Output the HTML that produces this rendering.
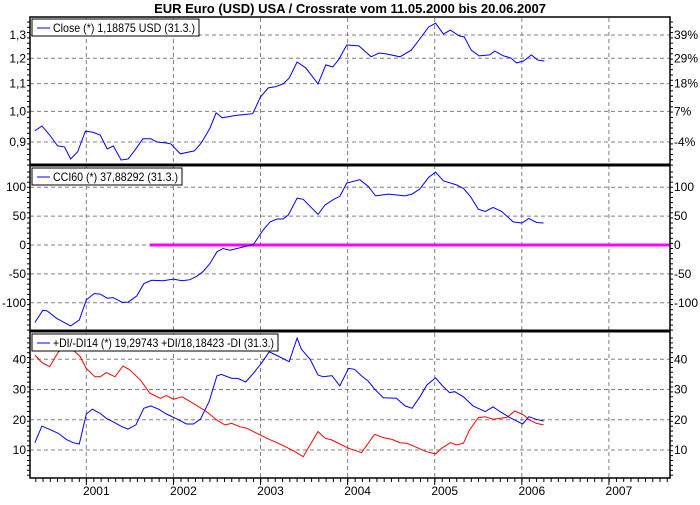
<!DOCTYPE html>
<html><head><meta charset="utf-8"><style>
body{margin:0;background:#fff}
svg text{font-family:"Liberation Sans",Arial,sans-serif;font-size:12px;fill:#000}
</style></head><body>
<svg id="c" width="700" height="500" xmlns="http://www.w3.org/2000/svg">
<text x="350" y="13" text-anchor="middle" style="font-weight:bold;font-size:13px">EUR Euro (USD) USA / Crossrate vom 11.05.2000  bis 20.06.2007</text>
</svg>
<script>
const closeDates=[2000.41,2000.49,2000.58,2000.67,2000.75,2000.82,2000.90,2000.99,2001.07,2001.16,2001.24,2001.31,2001.40,2001.48,2001.56,2001.65,2001.74,2001.81,2001.92,2001.97,2002.08,2002.13,2002.24,2002.32,2002.42,2002.49,2002.56,2002.62,2002.69,2002.77,2002.91,2003.00,2003.09,2003.17,2003.26,2003.33,2003.42,2003.52,2003.66,2003.75,2003.83,2003.90,2003.99,2004.13,2004.27,2004.36,2004.45,2004.60,2004.73,2004.82,2004.93,2005.01,2005.10,2005.18,2005.28,2005.34,2005.42,2005.51,2005.63,2005.69,2005.79,2005.87,2005.94,2006.02,2006.11,2006.18,2006.26];
const closeValues=[0.935,0.951,0.922,0.888,0.885,0.849,0.870,0.934,0.931,0.922,0.879,0.888,0.846,0.849,0.876,0.910,0.910,0.900,0.897,0.894,0.864,0.867,0.873,0.897,0.944,0.995,0.978,0.981,0.985,0.988,0.992,1.051,1.084,1.088,1.099,1.121,1.185,1.161,1.099,1.173,1.165,1.196,1.256,1.252,1.206,1.222,1.218,1.206,1.234,1.278,1.336,1.354,1.304,1.322,1.296,1.291,1.234,1.210,1.214,1.230,1.210,1.202,1.181,1.189,1.214,1.193,1.189];
const cciDates=[2000.41,2000.50,2000.55,2000.66,2000.82,2000.92,2001.00,2001.09,2001.16,2001.24,2001.31,2001.41,2001.48,2001.58,2001.66,2001.75,2001.88,2002.00,2002.10,2002.19,2002.27,2002.34,2002.42,2002.50,2002.57,2002.65,2002.73,2002.84,2002.92,2003.03,2003.11,2003.19,2003.26,2003.32,2003.42,2003.49,2003.66,2003.74,2003.84,2003.91,2003.99,2004.14,2004.24,2004.32,2004.47,2004.66,2004.74,2004.83,2004.93,2005.01,2005.10,2005.25,2005.33,2005.41,2005.50,2005.58,2005.67,2005.77,2005.90,2006.00,2006.08,2006.17,2006.25];
const cciValues=[-134,-113,-114,-127,-140,-130,-95,-84,-85,-92,-91,-99,-99,-88,-67,-61,-62,-59,-62,-60,-54,-46,-32,-12,-6,-9,-6,-2,1,26,40,45,45,52,81,79,53,69,79,84,107,113,101,85,88,85,88,97,117,126,111,104,98,84,62,58,65,58,40,38,46,39,38];
const cciZeroStart=2001.73;
const diPlusDates=[2000.41,2000.49,2000.58,2000.68,2000.77,2000.85,2000.92,2001.00,2001.07,2001.16,2001.23,2001.33,2001.41,2001.48,2001.57,2001.66,2001.74,2001.83,2001.92,2002.04,2002.15,2002.23,2002.31,2002.41,2002.50,2002.55,2002.67,2002.74,2002.83,2002.92,2003.01,2003.10,2003.20,2003.33,2003.42,2003.47,2003.57,2003.66,2003.72,2003.82,2003.91,2004.01,2004.08,2004.16,2004.24,2004.31,2004.41,2004.56,2004.66,2004.74,2004.83,2004.91,2005.01,2005.08,2005.17,2005.23,2005.33,2005.44,2005.58,2005.67,2005.75,2005.86,2006.01,2006.08,2006.16,2006.25];
const diPlusValues=[12.4,17.9,16.8,15.5,13.5,12.4,12.0,21.9,23.5,22.1,20.5,19.0,17.7,16.9,18.3,23.8,24.6,23.5,21.9,20.3,18.6,18.6,20.2,26.0,34.5,35.0,33.7,33.7,32.5,35.4,38.7,42.5,41.1,39.2,47.0,43.3,40.0,34.8,34.2,34.6,31.2,37.0,36.7,34.5,32.7,30.1,27.3,27.1,24.6,23.8,27.6,31.5,33.9,31.5,29.0,29.3,27.6,24.6,22.7,24.3,22.7,20.8,18.6,21.0,20.2,19.6];
const diMinusDates=[2000.41,2000.49,2000.58,2000.68,2000.77,2000.87,2000.93,2001.00,2001.10,2001.16,2001.23,2001.33,2001.42,2001.50,2001.62,2001.73,2001.85,2001.92,2002.00,2002.10,2002.23,2002.38,2002.50,2002.59,2002.67,2002.76,2002.84,2002.96,2003.07,2003.19,2003.30,2003.40,2003.49,2003.57,2003.66,2003.74,2003.82,2003.91,2004.01,2004.16,2004.31,2004.41,2004.51,2004.60,2004.68,2004.79,2004.91,2005.01,2005.08,2005.18,2005.25,2005.33,2005.40,2005.50,2005.58,2005.67,2005.83,2005.92,2006.02,2006.09,2006.17,2006.25];
const diMinusValues=[41.4,38.9,37.6,42.5,44.2,42.5,40.9,37.0,34.2,34.2,35.6,34.2,37.8,36.5,33.2,28.8,27.1,28.0,26.8,27.6,25.4,22.7,19.9,18.3,18.8,17.7,17.2,15.5,13.9,12.4,10.9,9.4,7.8,11.7,16.1,13.9,13.3,12.0,10.6,9.1,15.2,14.1,13.5,12.4,12.2,10.9,9.4,8.7,10.6,12.4,11.7,12.2,16.6,20.7,21.0,20.2,20.8,22.9,21.6,19.9,18.8,18.3];
const yearTicks=[2001,2002,2003,2004,2005,2006,2007];
const closeTicks=[0.9,1.0,1.1,1.2,1.3];
const closeTickLabels=["0,9","1,0","1,1","1,2","1,3"];
const pctTickLabels=["-4%","7%","18%","29%","39%"];
const cciTicks=[-100,-50,0,50,100];
const diTicks=[10,20,30,40];

const svg=document.getElementById('c');
const NS='http://www.w3.org/2000/svg';
const L=30,R=670;
function X(y){return 86.3+(y-2001)*87.1;}
function yClose(v){return 35+(Math.log10(1.3)-Math.log10(v))/(Math.log10(1.3)-Math.log10(0.9))*107;}
function yCci(v){return 245-v*0.578;}
function yDi(v){return 450-(v-10)*3.023;}
function mk(tag,attrs){const e=document.createElementNS(NS,tag);for(const k in attrs)e.setAttribute(k,attrs[k]);svg.appendChild(e);return e;}
function grid(y,name){const g=mk('line',{x1:L,x2:R,y1:y,y2:y,stroke:'#808080','stroke-dasharray':'4,3'});

}
function txt(x,y,s,anchor,name){const t=mk('text',{x:x,y:y,'text-anchor':anchor});t.textContent=s;

return t;}
function line(ds,vs,fy,color,name){const p=mk('polyline',{fill:'none',stroke:color,'stroke-width':1,points:ds.map((d,i)=>X(d).toFixed(1)+','+fy(vs[i]).toFixed(1)).join(' ')});

}
yearTicks.forEach(y=>{const g=mk('line',{x1:X(y),x2:X(y),y1:18,y2:478,stroke:'#808080','stroke-dasharray':'4,3'});


txt(X(y)+10,495,String(y),'middle','x-tick-label');});
closeTicks.forEach((v,i)=>{const y=yClose(v);grid(y,'close-grid-line');txt(26,y+4,closeTickLabels[i],'end','close-tick-label');txt(674,y+4,pctTickLabels[i],'start','percent-tick-label');});
cciTicks.forEach(v=>{const y=yCci(v);grid(y,'cci-grid-line');txt(26,y+4,String(v),'end','cci-tick-label');txt(674,y+4,String(v),'start','cci-right-tick-label');});
diTicks.forEach(v=>{const y=yDi(v);grid(y,'di-grid-line');txt(26,y+4,String(v),'end','di-tick-label');txt(674,y+4,String(v),'start','di-right-tick-label');});
for(let i=0;i<28;i++){[L,R].forEach(x=>{mk('line',{x1:x,x2:x+(x==L?-3:3),y1:22+i*5.3,y2:22+i*5.3,stroke:'#000'});});}
for(let i=0;i<32;i++){[L,R].forEach(x=>{mk('line',{x1:x,x2:x+(x==L?-3:3),y1:172+i*5.1,y2:172+i*5.1,stroke:'#000'});});}
for(let i=0;i<29;i++){[L,R].forEach(x=>{mk('line',{x1:x,x2:x+(x==L?-3:3),y1:338+i*4.9,y2:338+i*4.9,stroke:'#000'});});}
for(let m=2000.42;m<2007.7;m+=1/12){mk('line',{x1:X(m),x2:X(m),y1:478,y2:482,stroke:'#000'});}
yearTicks.forEach(y=>mk('line',{x1:X(y),x2:X(y),y1:478,y2:485,stroke:'#000'}));
const z=mk('line',{x1:X(cciZeroStart),x2:R,y1:yCci(0),y2:yCci(0),stroke:'#ff00ff','stroke-width':3});


line(closeDates,closeValues,yClose,'#0000ff','close-line');
line(cciDates,cciValues,yCci,'#0000ff','cci-line');
line(diMinusDates,diMinusValues,yDi,'#ff0000','di-minus-line');
line(diPlusDates,diPlusValues,yDi,'#0000ff','di-plus-line');
mk('rect',{x:L,y:17,width:R-L,height:461,fill:'none',stroke:'#000','stroke-width':1.5});
mk('line',{x1:L,x2:R,y1:165,y2:165,stroke:'#000','stroke-width':3});
mk('line',{x1:L,x2:R,y1:331,y2:331,stroke:'#000','stroke-width':3});
function legend(x,y,w,s,name){const g=mk('g',{});

const r=document.createElementNS(NS,'rect');r.setAttribute('x',x);r.setAttribute('y',y);r.setAttribute('width',w);r.setAttribute('height',17);r.setAttribute('fill','#fff');r.setAttribute('stroke','#000');g.appendChild(r);
const l=document.createElementNS(NS,'line');l.setAttribute('x1',x+5);l.setAttribute('x2',x+18);l.setAttribute('y1',y+9);l.setAttribute('y2',y+9);l.setAttribute('stroke','#0000ff');g.appendChild(l);
const t=document.createElementNS(NS,'text');t.setAttribute('x',x+21);t.setAttribute('y',y+13);t.setAttribute('textLength',w-25);t.setAttribute('lengthAdjust','spacingAndGlyphs');t.textContent=s;g.appendChild(t);}
legend(32,19,167,'Close (*) 1,18875 USD (31.3.)','close-legend');
legend(32,168,150,'CCI60 (*) 37,88292 (31.3.)','cci-legend');
legend(32,334,246,'+DI/-DI14 (*) 19,29743 +DI/18,18423 -DI (31.3.)','di-legend');
</script>
</body></html>
